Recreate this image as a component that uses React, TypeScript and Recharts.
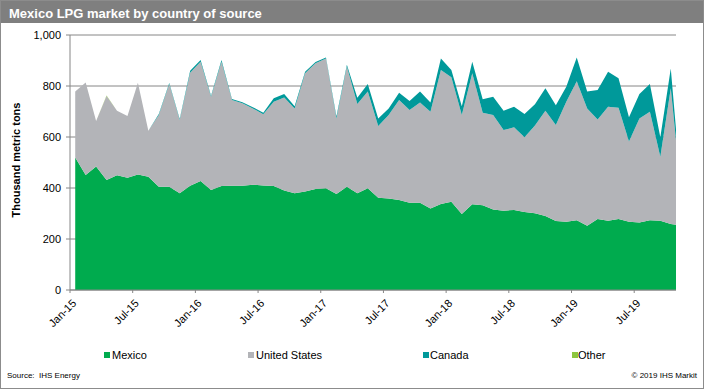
import React from "react";
import { AreaChart, Area, XAxis, YAxis, CartesianGrid } from "recharts";

const months = [
  "Jan-15", "Feb-15", "Mar-15", "Apr-15", "May-15", "Jun-15", "Jul-15", "Aug-15", "Sep-15", "Oct-15", "Nov-15", "Dec-15",
  "Jan-16", "Feb-16", "Mar-16", "Apr-16", "May-16", "Jun-16", "Jul-16", "Aug-16", "Sep-16", "Oct-16", "Nov-16", "Dec-16",
  "Jan-17", "Feb-17", "Mar-17", "Apr-17", "May-17", "Jun-17", "Jul-17", "Aug-17", "Sep-17", "Oct-17", "Nov-17", "Dec-17",
  "Jan-18", "Feb-18", "Mar-18", "Apr-18", "May-18", "Jun-18", "Jul-18", "Aug-18", "Sep-18", "Oct-18", "Nov-18", "Dec-18",
  "Jan-19", "Feb-19", "Mar-19", "Apr-19", "May-19", "Jun-19", "Jul-19", "Aug-19", "Sep-19", "Oct-19", "Nov-19"
];

const mexico = [
  520, 451, 484, 431, 450, 440, 453, 444, 405, 405, 379, 409,
  427, 392, 408, 409, 409, 413, 410, 408, 390, 379, 386, 396,
  399, 376, 405, 379, 399, 362, 359, 353, 342, 342, 320, 337,
  346, 298, 336, 332, 316, 311, 314, 306, 301, 290, 271, 268,
  274, 252, 278, 272, 278, 268, 265, 274, 272, 259, 252
];

const unitedStates = [
  258, 363, 179, 330, 253, 242, 360, 181, 281, 403, 288, 443,
  468, 366, 487, 336, 323, 299, 279, 330, 365, 333, 464, 493,
  509, 297, 471, 350, 379, 281, 327, 392, 364, 393, 379, 526,
  488, 388, 514, 363, 370, 316, 324, 293, 344, 413, 376, 470,
  545, 460, 391, 447, 437, 314, 408, 425, 251, 532, 130
];

const canada = [
  0, 0, 0, 0, 0, 0, 0, 0, 4, 4, 4, 8,
  7, 4, 7, 4, 4, 5, 6, 14, 14, 9, 6, 5,
  4, 7, 7, 25, 30, 30, 26, 29, 35, 43, 36, 45,
  29, 35, 45, 53, 72, 76, 81, 91, 83, 88, 78, 59,
  93, 66, 115, 137, 115, 95, 96, 109, 76, 78, 12
];

const other = [
  0, 0, 0, 2, 0, 0, 0, 0, 0, 0, 0, 0,
  0, 0, 0, 0, 0, 0, 0, 0, 0, 0, 0, 0,
  0, 0, 0, 0, 0, 0, 0, 0, 0, 0, 0, 0,
  0, 0, 0, 0, 0, 0, 0, 0, 0, 0, 0, 0,
  0, 0, 0, 0, 0, 0, 0, 0, 0, 0, 0
];

const tickLabels = ["Jan-15", "Jul-15", "Jan-16", "Jul-16", "Jan-17", "Jul-17", "Jan-18", "Jul-18", "Jan-19", "Jul-19"];
const yTicks = [0, 200, 400, 600, 800, 1000];

const series = [
  { key: "Mexico", values: mexico, color: "#00AB4E" },
  { key: "United States", values: unitedStates, color: "#B3B4B8" },
  { key: "Canada", values: canada, color: "#00999A" },
  { key: "Other", values: other, color: "#8DC63F" }
];

// points sit mid-month, ticks at the start of the month
const data = months.map((m, i) => {
  const row: any = { t: i + 0.5, month: m };
  series.forEach((s) => (row[s.key] = s.values[i]));
  return row;
});

const FONT = "'Liberation Sans', Arial, sans-serif";
const AXIS = "#868686";

const XTick = ({ x, y, payload }: any) => {
  const label = tickLabels[Math.round(payload.value / 6)];
  const ax = x + 7;
  const ay = y + 9;
  return (
    <text x={ax} y={ay} transform={`rotate(-45 ${ax} ${ay})`} textAnchor="end" fontSize={11} fontFamily={FONT} fill="#000">
      {label}
    </text>
  );
};

const legendPos = [
  { sq: 104, tx: 112 },
  { sq: 248, tx: 256 },
  { sq: 423, tx: 430 },
  { sq: 572, tx: 578 }
];

const App = () => {
  return (
    <div style={{ position: "absolute", left: 0, top: 0, width: 704, height: 389, background: "#fff", fontFamily: FONT, overflow: "hidden" }}>
      <div
        style={{
          position: "absolute", left: 0, top: 0, width: 704, height: 23, boxSizing: "border-box",
          background: "#7F7F7F", color: "#fff", fontWeight: "bold", fontSize: 13, paddingLeft: 9, paddingTop: 4, lineHeight: "19px"
        }}
      >
        Mexico LPG market by country of source
      </div>

      <div style={{ position: "absolute", left: 0, top: 0 }}>
        <AreaChart width={704} height={389} data={data} margin={{ top: 35, right: 28, left: 0, bottom: 59 }}>
          <CartesianGrid vertical={false} stroke={AXIS} strokeWidth={1} />
          <XAxis
            dataKey="t"
            type="number"
            domain={[0, 58]}
            ticks={tickLabels.map((_, i) => i * 6)}
            allowDataOverflow
            height={40}
            stroke={AXIS}
            tickSize={3}
            tickMargin={2}
            tick={<XTick />}
            interval={0}
          />
          <YAxis
            type="number"
            domain={[0, 1000]}
            ticks={yTicks}
            width={70}
            stroke={AXIS}
            tickSize={4}
            tickMargin={5}
            tick={{ fill: "#000", fontSize: 11, fontFamily: FONT }}
            tickFormatter={(v: number) => v.toLocaleString("en-US")}
            interval={0}
          />
          {series.map((s) => (
            <Area
              key={s.key}
              type="linear"
              dataKey={s.key}
              stackId="1"
              fill={s.color}
              fillOpacity={1}
              stroke="none"
              isAnimationActive={false}
              dot={false}
              activeDot={false}
            />
          ))}
        </AreaChart>
      </div>

      <div
        style={{
          position: "absolute", left: 16, top: 160, transform: "translate(-50%, -50%) rotate(-90deg)",
          whiteSpace: "nowrap", fontWeight: "bold", fontSize: 11, color: "#000"
        }}
      >
        Thousand metric tons
      </div>

      {series.map((s, i) => (
        <React.Fragment key={s.key}>
          <div style={{ position: "absolute", left: legendPos[i].sq, top: 352, width: 6, height: 6, background: s.color }} />
          <div style={{ position: "absolute", left: legendPos[i].tx, top: 348, fontSize: 11, lineHeight: "14px", color: "#000", whiteSpace: "nowrap" }}>
            {s.key}
          </div>
        </React.Fragment>
      ))}

      <div style={{ position: "absolute", left: 7, top: 371, fontSize: 8, lineHeight: "10px", color: "#000", whiteSpace: "nowrap" }}>
        Source:&nbsp;&nbsp;IHS Energy
      </div>
      <div style={{ position: "absolute", right: 7, top: 371, fontSize: 8, lineHeight: "10px", color: "#000", whiteSpace: "nowrap" }}>
        © 2019 IHS Markit
      </div>

      <div style={{ position: "absolute", left: 0, top: 0, width: 704, height: 389, boxSizing: "border-box", border: "1px solid #8C8C8C", pointerEvents: "none" }} />
    </div>
  );
};

export default App;
